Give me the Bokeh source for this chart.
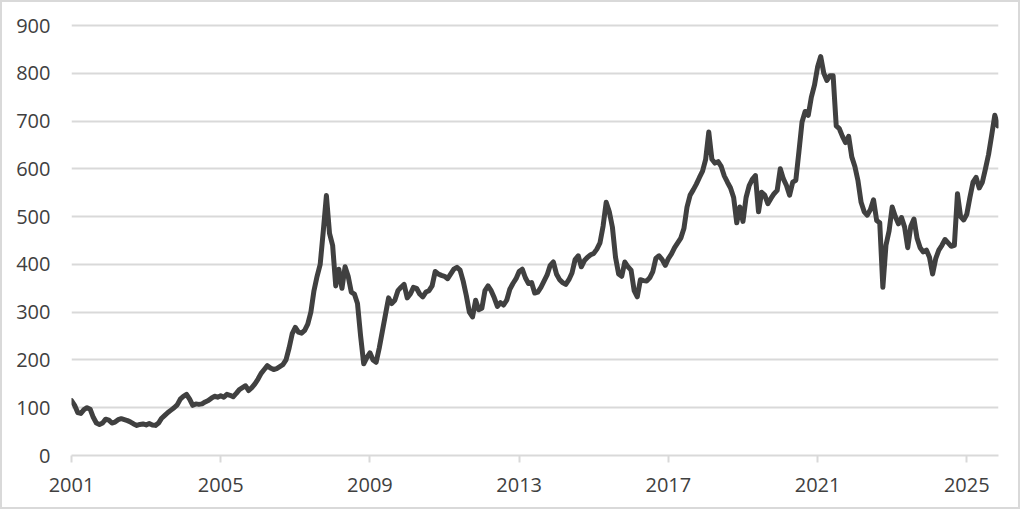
from bokeh.plotting import figure
from bokeh.models import Range1d, FixedTicker
from bokeh.embed import file_html
from bokeh.resources import INLINE

# Monthly values, Jan 2001 .. Nov 2025
v2001 = [115, 105, 90, 88, 96, 100, 97, 80, 68, 65, 68, 76]
v2002 = [74, 68, 70, 75, 77, 75, 73, 70, 66, 63, 65, 66]
v2003 = [64, 67, 64, 63, 68, 78, 84, 90, 95, 100, 106, 118]
v2004 = [124, 128, 118, 105, 108, 107, 108, 112, 115, 120, 124, 122]
v2005 = [125, 122, 128, 126, 123, 130, 138, 142, 146, 136, 142, 150]
v2006 = [160, 172, 180, 188, 183, 180, 182, 186, 190, 200, 225, 255]
v2007 = [268, 258, 256, 262, 275, 300, 345, 375, 400, 470, 544, 465]
v2008 = [440, 355, 390, 350, 395, 375, 342, 338, 318, 250, 192, 205]
v2009 = [215, 200, 195, 225, 260, 295, 330, 318, 325, 345, 352, 358]
v2010 = [330, 338, 352, 350, 338, 332, 342, 345, 355, 385, 380, 377]
v2011 = [375, 370, 380, 390, 394, 388, 365, 335, 300, 290, 325, 305]
v2012 = [308, 345, 355, 345, 330, 312, 320, 315, 325, 348, 360, 370]
v2013 = [385, 390, 372, 360, 362, 340, 342, 352, 365, 378, 398, 405]
v2014 = [380, 368, 362, 358, 368, 382, 410, 418, 395, 408, 415, 420]
v2015 = [423, 432, 445, 480, 530, 510, 478, 415, 380, 375, 405, 395]
v2016 = [388, 345, 332, 368, 366, 365, 372, 385, 413, 418, 410, 398]
v2017 = [412, 422, 435, 445, 455, 475, 520, 545, 556, 568, 582, 595]
v2018 = [620, 677, 620, 612, 615, 605, 585, 572, 560, 540, 487, 520]
v2019 = [490, 540, 565, 578, 586, 510, 551, 545, 527, 538, 548, 555]
v2020 = [600, 579, 565, 545, 572, 576, 636, 698, 720, 712, 750, 775]
v2021 = [813, 835, 800, 785, 795, 795, 690, 684, 668, 655, 668, 625]
v2022 = [605, 575, 530, 510, 503, 515, 535, 492, 487, 352, 440, 470]
v2023 = [520, 500, 485, 498, 478, 435, 480, 495, 455, 435, 426, 430]
v2024 = [415, 380, 412, 430, 440, 452, 445, 438, 440, 548, 500, 493]
v2025 = [505, 540, 572, 582, 560, 572, 600, 630, 670, 712, 690]

values = (v2001 + v2002 + v2003 + v2004 + v2005 + v2006 + v2007 + v2008 + v2009
          + v2010 + v2011 + v2012 + v2013 + v2014 + v2015 + v2016 + v2017 + v2018
          + v2019 + v2020 + v2021 + v2022 + v2023 + v2024 + v2025)
months = list(range(len(values)))

year_labels = ["2001", "2005", "2009", "2013", "2017", "2021", "2025"]
year_ticks = [0, 48, 96, 144, 192, 240, 288]
y_ticks = [0, 100, 200, 300, 400, 500, 600, 700, 800, 900]

FONT = "Open Sans"
TEXT = "#404040"
GRID = "#d9d9d9"

p = figure(width=1020, height=509, output_backend="svg", toolbar_location=None,
           x_range=Range1d(0, 298.2), y_range=Range1d(0, 904.2),
           min_border_left=69, min_border_right=24, min_border_top=21,
           min_border_bottom=56)
p.background_fill_color = "white"
p.border_fill_color = "white"
p.outline_line_color = None
p.styles = {"border": "2px solid #d9d9d9"}

p.line(months, values, line_color="#404040", line_width=5,
       line_join="round", line_cap="round")

p.xgrid.visible = False
p.ygrid.ticker = FixedTicker(ticks=y_ticks)
p.ygrid.grid_line_color = GRID
p.ygrid.grid_line_width = 2

p.yaxis.ticker = FixedTicker(ticks=y_ticks)
p.yaxis.axis_line_color = None
p.yaxis.major_tick_line_color = None
p.yaxis.minor_tick_line_color = None
p.yaxis.major_tick_out = 0
p.yaxis.major_tick_in = 0
p.yaxis.major_label_standoff = 21
p.yaxis.major_label_text_font = FONT
p.yaxis.major_label_text_font_size = "20px"
p.yaxis.major_label_text_color = TEXT

p.xaxis.ticker = FixedTicker(ticks=year_ticks)
p.xaxis.major_label_overrides = {t: l for t, l in zip(year_ticks, year_labels)}
p.xaxis.axis_line_color = GRID
p.xaxis.axis_line_width = 2
p.xaxis.major_tick_line_color = GRID
p.xaxis.major_tick_line_width = 2
p.xaxis.major_tick_out = 7
p.xaxis.major_tick_in = 0
p.xaxis.minor_tick_line_color = None
p.xaxis.major_label_standoff = 15
p.xaxis.major_label_text_font = FONT
p.xaxis.major_label_text_font_size = "20px"
p.xaxis.major_label_text_color = TEXT

open("out.html", "w").write(file_html(p, INLINE))
